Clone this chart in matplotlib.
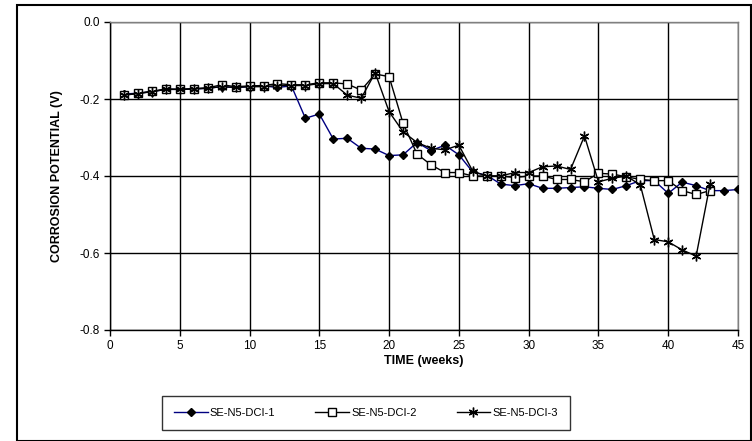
import matplotlib
matplotlib.use("Agg")
import matplotlib.pyplot as plt
from matplotlib.patches import Rectangle

plt.rcParams['font.family'] = ['Liberation Sans', 'DejaVu Sans']

weeks1 = list(range(1, 46))
dci1 = [-0.187, -0.185, -0.181, -0.175, -0.175, -0.174, -0.172, -0.168, -0.170, -0.168,
        -0.166, -0.170, -0.166, -0.250, -0.239, -0.304, -0.302, -0.328, -0.330, -0.347,
        -0.345, -0.313, -0.334, -0.320, -0.345, -0.390, -0.398, -0.421, -0.425, -0.420,
        -0.432, -0.432, -0.430, -0.428, -0.432, -0.435, -0.425, -0.412, -0.412, -0.445,
        -0.416, -0.425, -0.438, -0.438, -0.435]

weeks2 = list(range(1, 44))
dci2 = [-0.190, -0.185, -0.180, -0.174, -0.175, -0.173, -0.171, -0.163, -0.168, -0.166,
        -0.165, -0.160, -0.163, -0.163, -0.158, -0.158, -0.161, -0.177, -0.135, -0.142,
        -0.263, -0.343, -0.371, -0.391, -0.391, -0.400, -0.400, -0.400, -0.404, -0.400,
        -0.400, -0.409, -0.409, -0.415, -0.393, -0.395, -0.402, -0.409, -0.412, -0.412,
        -0.438, -0.448, -0.438]

weeks3 = list(range(1, 44))
dci3 = [-0.190, -0.186, -0.181, -0.175, -0.175, -0.174, -0.172, -0.168, -0.170, -0.168,
        -0.168, -0.165, -0.165, -0.165, -0.160, -0.160, -0.190, -0.198, -0.132, -0.233,
        -0.285, -0.313, -0.328, -0.332, -0.320, -0.388, -0.400, -0.400, -0.391, -0.391,
        -0.376, -0.374, -0.383, -0.296, -0.415, -0.406, -0.400, -0.423, -0.565, -0.571,
        -0.592, -0.608, -0.421]

labels = ["SE-N5-DCI-1", "SE-N5-DCI-2", "SE-N5-DCI-3"]

fig = plt.figure(figsize=(7.52, 4.41), dpi=100)
ax = fig.add_axes([110/752, 1 - 330/441, (738-110)/752, (330-22)/441])

ax.plot(weeks1, dci1, color='#000080', lw=1.0, marker='D', ms=4.2,
        mfc='black', mec='black', label=labels[0], zorder=3)
ax.plot(weeks2, dci2, color='black', lw=1.0, marker='s', ms=5.2,
        mfc='white', mec='black', mew=1.0, label=labels[1], zorder=3)
ax.plot(weeks3, dci3, color='black', lw=1.0, marker=(6, 2, 0), ms=7,
        mec='black', mew=1.0, label=labels[2], zorder=4)

ax.set_xlim(0, 45)
ax.set_ylim(-0.8, 0.0)
ax.set_xticks(range(0, 46, 5))
ax.set_yticks([-0.8, -0.6, -0.4, -0.2, 0.0])
ax.set_yticklabels(['-0.8', '-0.6', '-0.4', '-0.2', '0.0'])
ax.grid(True, color='black', lw=1.0)
ax.set_axisbelow(True)
for s in ax.spines.values():
    s.set_color('black')
    s.set_linewidth(1.0)
ax.spines['right'].set_color('#808080')
ax.spines['top'].set_color('#808080')
ax.tick_params(axis='both', labelsize=8.5, direction='out', length=4, width=1, colors='black')
ax.set_xlabel('TIME (weeks)', fontsize=9, fontweight='bold', labelpad=2)
ax.set_ylabel('CORROSION POTENTIAL (V)', fontsize=9, fontweight='bold', labelpad=12)

leg = fig.legend(loc='center', bbox_to_anchor=(366/752, 1 - 413/441), ncol=3,
                 fontsize=8, frameon=True, fancybox=False, edgecolor='black',
                 handlelength=3.0, handletextpad=0.2, columnspacing=3.6,
                 borderpad=1.1)
leg.get_frame().set_linewidth(1.0)

fig.patches.append(Rectangle((17/752, 0), (751-17)/752, 1 - 5/441,
                             transform=fig.transFigure, fill=False,
                             edgecolor='black', lw=1.5))

fig.savefig('out.png', dpi=100)
